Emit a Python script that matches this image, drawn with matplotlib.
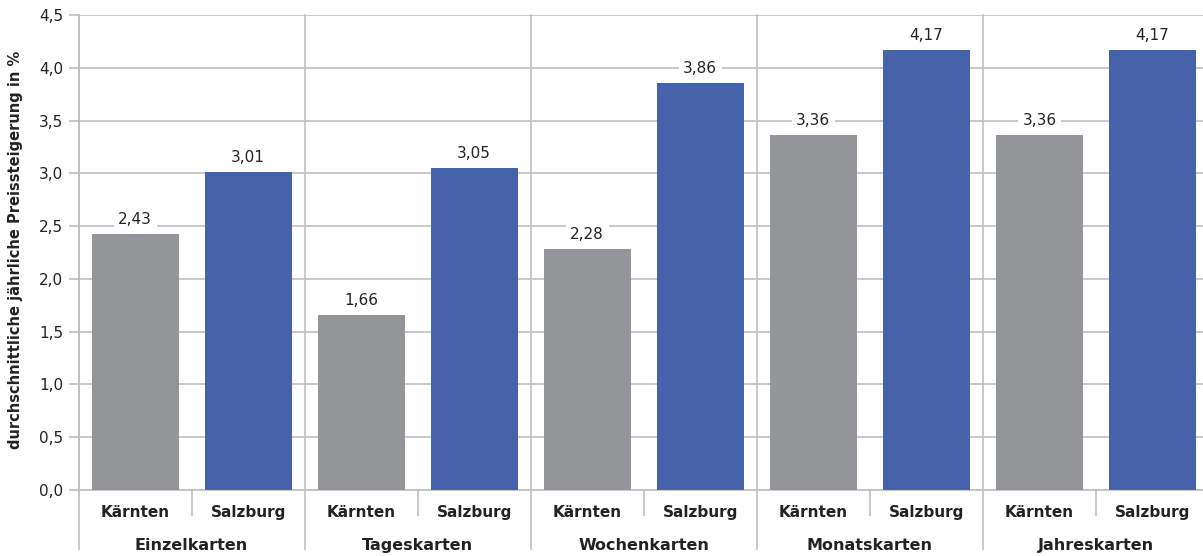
import matplotlib
matplotlib.use("Agg")
import matplotlib.pyplot as plt
from matplotlib.lines import Line2D

groups = ["Einzelkarten", "Tageskarten", "Wochenkarten", "Monatskarten", "Jahreskarten"]
regions = ["Kärnten", "Salzburg"]
kaernten = [2.43, 1.66, 2.28, 3.36, 3.36]
salzburg = [3.01, 3.05, 3.86, 4.17, 4.17]
yticks = [0.0, 0.5, 1.0, 1.5, 2.0, 2.5, 3.0, 3.5, 4.0, 4.5]
ylabel = "durchschnittliche jährliche Preissteigerung in %"

GRAY = "#939598"
BLUE = "#4562AB"
GRID = "#bfbfc4"
TEXT = "#222222"

W, H = 1203, 556
fig = plt.figure(figsize=(W / 100, H / 100), dpi=100)
left, right, top, bottom = 78.5, 1209, 15, 490
ax = fig.add_axes([left / W, 1 - bottom / H, (right - left) / W, (bottom - top) / H])

def fmt(v):
    return f"{v:.2f}".replace(".", ",")

xs_k = [2 * i for i in range(len(groups))]
xs_s = [2 * i + 1 for i in range(len(groups))]
ax.bar(xs_k, kaernten, width=0.77, color=GRAY, zorder=3)
ax.bar(xs_s, salzburg, width=0.77, color=BLUE, zorder=3)

for x, v in list(zip(xs_k, kaernten)) + list(zip(xs_s, salzburg)):
    ax.annotate(fmt(v), (x, v), xytext=(0, 5), textcoords="offset points",
                ha="center", va="bottom", fontsize=11, color=TEXT, zorder=4,
                bbox=dict(boxstyle="square,pad=0.3", fc="white", ec="none"))

ax.set_xlim(-0.5, 2 * len(groups) - 0.5)
ax.set_ylim(0, 4.5)
ax.set_yticks(yticks)
ax.set_yticklabels([f"{t:.1f}".replace(".", ",") for t in yticks], fontsize=11, color=TEXT)
ax.tick_params(axis="y", length=7, color=GRID, width=1.2, pad=4)
ax.tick_params(axis="x", length=0)
ax.set_xticks([])
ax.yaxis.grid(True, color=GRID, linewidth=1.2, zorder=0)
ax.set_axisbelow(True)
for s in ["top", "right"]:
    ax.spines[s].set_visible(False)
ax.spines["left"].set_color(GRID)
ax.spines["left"].set_linewidth(1.2)
ax.spines["bottom"].set_color(GRID)
ax.spines["bottom"].set_linewidth(1.2)

trans = ax.get_xaxis_transform()
# group separators (full height, extending below axis)
for i in range(len(groups) + 1):
    xb = 2 * i - 0.5
    ax.add_line(Line2D([xb, xb], [1.0, -0.125], transform=trans, color=GRID,
                       linewidth=1.2, clip_on=False, zorder=1))
# inner separators below axis
for i in range(len(groups)):
    xb = 2 * i + 0.5
    ax.add_line(Line2D([xb, xb], [0, -0.053], transform=trans, color=GRID,
                       linewidth=1.2, clip_on=False, zorder=1))

for i, g in enumerate(groups):
    ax.text(2 * i, -0.047, regions[0], transform=trans, ha="center", va="center",
            fontsize=11, fontweight="bold", color=TEXT)
    ax.text(2 * i + 1, -0.047, regions[1], transform=trans, ha="center", va="center",
            fontsize=11, fontweight="bold", color=TEXT)
    ax.text(2 * i + 0.5, -0.116, g, transform=trans, ha="center", va="center",
            fontsize=11.5, fontweight="bold", color=TEXT)

fig.text(16 / W, 1 - 250 / H, ylabel, rotation=90, ha="center", va="center",
         fontsize=10.5, fontweight="bold", color=TEXT)

fig.savefig("out.png", dpi=100)
